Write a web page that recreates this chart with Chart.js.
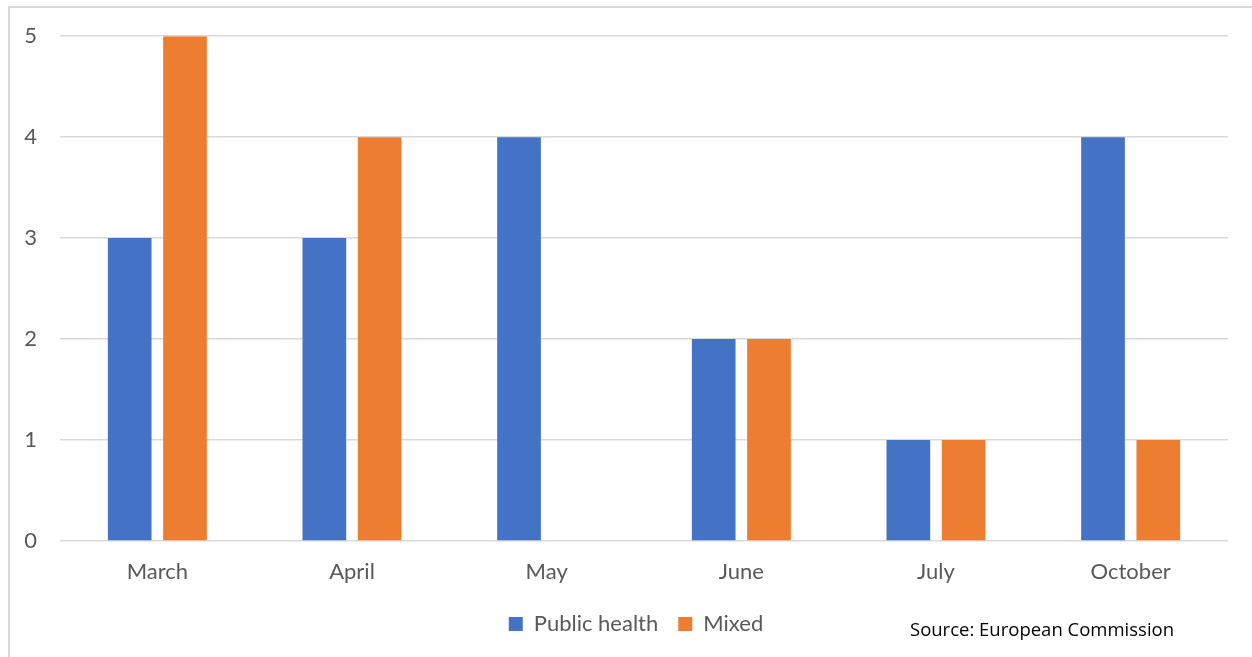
<!DOCTYPE html>
<html>
<head>
<meta charset="utf-8">
<script src="https://cdn.jsdelivr.net/npm/chart.js@4.4.0/dist/chart.umd.min.js"></script>
<style>
html,body{margin:0;padding:0;background:#fff;}
#wrap{position:relative;width:1252px;height:657px;}
</style>
</head>
<body>
<div id="wrap"><canvas id="c" width="1252" height="657"></canvas></div>
<script>
const categories = ["March", "April", "May", "June", "July", "October"];
const publicHealth = [3, 3, 4, 2, 1, 4];
const mixed = [5, 4, 0, 2, 1, 1];
const yTicks = [0, 1, 2, 3, 4, 5];
const seriesNames = ["Public health", "Mixed"];
const sourceText = "Source: European Commission";

const framePlugin = {
  id: 'frame',
  beforeDraw(chart) {
    const ctx = chart.ctx;
    ctx.save();
    ctx.strokeStyle = '#d9d9d9';
    ctx.lineWidth = 2;
    ctx.beginPath();
    ctx.moveTo(9, 657);
    ctx.lineTo(9, 7);
    ctx.lineTo(1252, 7);
    ctx.stroke();
    ctx.restore();
  }
};
const shiftLegend = {
  id: 'shiftLegend',
  afterLayout(chart) {
    if (chart.legend) { chart.legend.left += 22; chart.legend.right += 22; }
  }
};
const sourcePlugin = {
  id: 'source',
  afterDraw(chart) {
    const ctx = chart.ctx;
    ctx.save();
    ctx.fillStyle = '#000';
    ctx.font = '18.5px "Open Sans"';
    ctx.textBaseline = 'middle';
    ctx.textAlign = 'left';
    ctx.fillText(sourceText, 910, 631);
    ctx.restore();
  }
};

new Chart(document.getElementById('c'), {
  type: 'bar',
  data: {
    labels: categories,
    datasets: [
      { label: seriesNames[0], data: publicHealth, backgroundColor: '#4472C4', categoryPercentage: 0.568, barPercentage: 0.79 },
      { label: seriesNames[1], data: mixed, backgroundColor: '#ED7D31', categoryPercentage: 0.568, barPercentage: 0.79 }
    ]
  },
  options: {
    responsive: false,
    animation: false,
    layout: { padding: { left: 0, right: 24, top: 36, bottom: 12 } },
    plugins: {
      legend: {
        position: 'bottom',
        labels: {
          boxWidth: 14, boxHeight: 14, padding: 20,
          color: '#595959',
          font: { family: 'Lato', size: 22 }
        }
      },
      tooltip: { enabled: false }
    },
    scales: {
      x: {
        grid: { display: false, drawTicks: false },
        border: { display: false },
        ticks: { color: '#595959', font: { family: 'Lato', size: 22 }, padding: 18 },
        afterFit(s) { s.height = 52; }
      },
      y: {
        min: 0, max: 5,
        afterBuildTicks(s) { s.ticks = yTicks.map(v => ({ value: v })); },
        grid: { color: '#d9d9d9', lineWidth: 1.5, drawTicks: false },
        border: { display: false },
        ticks: { color: '#595959', font: { family: 'Lato', size: 22 }, padding: 23 },
        afterFit(s) { s.width = 60; }
      }
    }
  },
  plugins: [framePlugin, shiftLegend, sourcePlugin]
});
</script>
</body>
</html>
